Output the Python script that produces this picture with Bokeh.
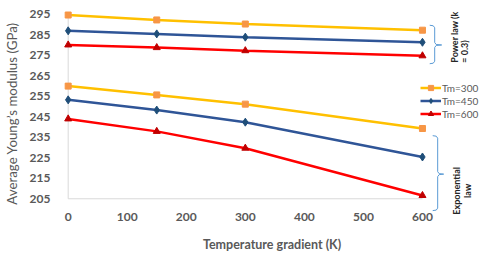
import math
from bokeh.plotting import figure
from bokeh.models import Range1d, FixedTicker, Legend, LegendItem, Label
from bokeh.embed import file_html
from bokeh.resources import INLINE

# ---------------- data ----------------
x_gradient = [0, 150, 300, 600]
power_tm300 = [294.7, 292.3, 290.3, 287.3]
power_tm450 = [287.0, 285.5, 283.9, 281.4]
power_tm600 = [280.1, 278.8, 277.3, 274.8]
exp_tm300 = [260.0, 255.7, 251.2, 239.3]
exp_tm450 = [253.3, 248.3, 242.4, 225.4]
exp_tm600 = [244.0, 237.9, 229.7, 206.6]
x_ticks = [0, 100, 200, 300, 400, 500, 600]
y_ticks = [205, 215, 225, 235, 245, 255, 265, 275, 285, 295]
series_labels = ["Tm=300", "Tm=450", "Tm=600"]

FONT = "Lato"
GREY = "#595959"
line_colors = ["#FFC000", "#2F5597", "#FF0000"]
marker_colors = ["#F79646", "#1F4E79", "#C00000"]
markers = ["square", "diamond", "triangle"]
marker_sizes = [6, 8, 7]

p = figure(width=480, height=254, output_backend="svg", toolbar_location=None,
           x_range=Range1d(-7.92, 698.3), y_range=Range1d(195.86, 297.4),
           min_border_left=61, min_border_right=0, min_border_top=9, min_border_bottom=34)
p.outline_line_color = None
p.xgrid.grid_line_color = None
p.ygrid.grid_line_color = None

# axes
for ax in (p.xaxis[0], p.yaxis[0]):
    ax.axis_line_color = None
    ax.major_tick_line_color = None
    ax.minor_tick_line_color = None
    ax.major_label_text_font = FONT
    ax.major_label_text_font_style = "bold"
    ax.major_label_text_font_size = "12px"
    ax.major_label_text_color = GREY
    ax.axis_label_text_font = FONT
    ax.axis_label_text_color = GREY
p.xaxis.ticker = FixedTicker(ticks=x_ticks)
p.yaxis.ticker = FixedTicker(ticks=y_ticks)
p.xaxis.major_label_standoff = -11
p.yaxis.major_label_standoff = 7
p.xaxis.axis_label = "Temperature gradient (K)"
p.xaxis.axis_label_text_font_size = "12.5px"
p.xaxis.axis_label_text_font_style = "bold"
p.xaxis.axis_label_standoff = 13
p.yaxis.axis_label = "Average Young\u2019s modulus (GPa)"
p.yaxis.axis_label_text_font_size = "13.3px"
p.yaxis.axis_label_text_font_style = "normal"
p.yaxis.axis_label_standoff = 7

# visible axis lines restricted to the data extent (Excel style)
p.segment(x0=[x_ticks[0], x_ticks[0]], y0=[y_ticks[0], y_ticks[0]],
          x1=[x_ticks[0], x_ticks[-1]], y1=[y_ticks[-1], y_ticks[0]],
          line_color="#D9D9D9", line_width=1)

# series
legend_items = []
power = [power_tm300, power_tm450, power_tm600]
expo = [exp_tm300, exp_tm450, exp_tm600]
for i in range(3):
    for ys, keep in ((power[i], False), (expo[i], True)):
        lr = p.line(x_gradient, ys, line_color=line_colors[i], line_width=2.5)
        sr = p.scatter(x_gradient, ys, marker=markers[i], size=marker_sizes[i],
                       fill_color=marker_colors[i], line_color=marker_colors[i])
        if keep:
            legend_items.append(LegendItem(label=series_labels[i], renderers=[lr, sr]))

# legend anchored from the frame's bottom-left (frame bottom at 220 px)
legend = Legend(items=legend_items, location=(357, 97), orientation="vertical",
                glyph_width=21, glyph_height=13, label_height=13, label_standoff=1,
                spacing=0, padding=0, margin=0,
                label_text_font=FONT, label_text_font_size="10px", label_text_color=GREY,
                border_line_color=None, background_fill_alpha=0)
p.add_layout(legend)

# ---------------- annotation brackets ----------------
X0_PX, XS = 65.7, 356.0 / 600.0
Y0_PX, YS = 14.0, 187.0 / 90.0
def dx(px):
    return (px - X0_PX) / XS
def dy(py):
    return 295 - (py - Y0_PX) / YS

def bracket(x_end, x_spine, x_tip, top, tip, bottom):
    pts = [(x_end, top), (x_spine - 1.5, top + 0.5), (x_spine, top + 2.5),
           (x_spine, tip - 2.5), (x_spine + 1.5, tip - 0.5), (x_tip, tip),
           (x_spine + 1.5, tip + 0.5), (x_spine, tip + 2.5),
           (x_spine, bottom - 2.5), (x_spine - 1.5, bottom - 0.5), (x_end, bottom)]
    p.line([dx(a) for a, _ in pts], [dy(b) for _, b in pts],
           line_color="#5B9BD5", line_width=1)

bracket(429, 434, 441, 25, 45, 64)
bracket(432, 437, 443, 137, 176, 213)

def vlabel(px, py, txt, align):
    p.add_layout(Label(x=dx(px), y=dy(py), text=txt, angle=math.pi / 2,
                       text_align=align, text_baseline="middle",
                       text_font=FONT, text_font_style="bold",
                       text_font_size="9px", text_color="#262626"))

vlabel(454, 63, "Power law (k", "left")
vlabel(463.5, 63, "= 0.3)", "left")
vlabel(456, 193, "Exponential", "center")
vlabel(467, 193, "law", "center")

open("out.html", "w").write(file_html(p, INLINE))
